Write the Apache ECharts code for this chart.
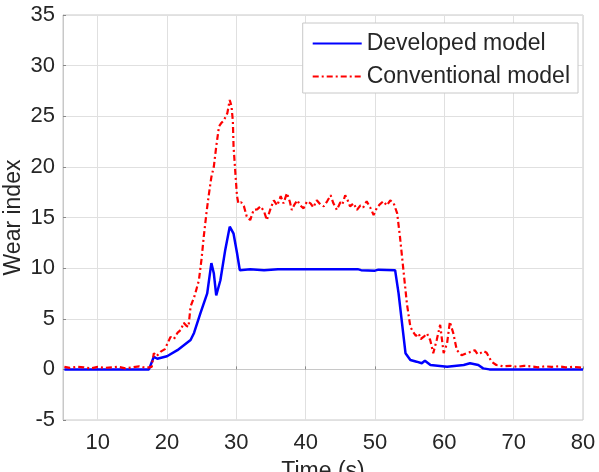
<!DOCTYPE html>
<html>
<head>
<meta charset="utf-8">
<script src="https://cdn.jsdelivr.net/npm/echarts@6/dist/echarts.min.js"></script>
<style>
  html, body { margin: 0; padding: 0; background: #fff; }
  #wearchart { width: 599px; height: 472px; }
</style>
</head>
<body>
<div id="wearchart"></div>
<script>
var xTicks = [10, 20, 30, 40, 50, 60, 70, 80];
var yTicks = [-5, 0, 5, 10, 15, 20, 25, 30, 35];

var devTime = [5.2, 17.4, 18.1, 18.6, 20.0, 21.5, 23.4, 23.9, 24.8, 25.8, 26.4, 26.75, 27.1, 27.7, 28.4, 29.05,
    29.6, 30.1, 30.5, 32.0, 34, 36, 38, 40, 44, 47.5, 48, 50, 50.5, 52.9, 53.4, 53.9, 54.4, 55.1, 56.0, 56.75,
    57.2, 58.0, 60.4, 62.8, 63.7, 64.9, 65.6, 66.5, 80];
var devWear = [0, 0, 1.25, 1.05, 1.3, 1.9, 2.9, 3.6, 5.5, 7.5, 10.5, 9.5, 7.3, 8.8, 11.8, 14.1,
    13.4, 11.5, 9.8, 9.9, 9.8, 9.9, 9.9, 9.9, 9.9, 9.9, 9.8, 9.75, 9.85, 9.8, 7.5, 4.55, 1.6, 0.93, 0.76, 0.6,
    0.86, 0.43, 0.27, 0.43, 0.6, 0.43, 0.1, 0, 0];

var convTime = [5.2, 6, 7, 8, 9, 10, 11, 12, 13, 14, 15, 16, 17, 17.8,
    18.1, 18.5, 19.1, 19.7, 20.1, 20.5, 21.0, 21.5, 22.0, 22.4, 22.8, 23.1, 23.4, 24.0, 24.6, 25.0, 25.3, 25.7,
    26.0, 26.4, 26.75, 27.1, 27.5, 27.8, 28.2, 28.7, 29.05, 29.3, 29.5, 29.6, 29.9, 30.1, 30.3, 30.7, 31.1,
    31.5, 32.0, 32.5, 33.0, 33.5, 34.0, 34.4, 34.9, 35.4, 35.9, 36.4, 36.8, 37.3, 37.7, 38.0, 38.4, 38.8, 39.2,
    39.7, 40.2, 40.7, 41.1, 41.6, 42.1, 42.6, 43.1, 43.6, 44.0, 44.5, 45.0, 45.3, 45.7, 46.0, 46.4, 46.9, 47.4,
    47.9, 48.3, 48.8, 49.3, 49.8, 50.3, 50.7, 51.2, 51.7, 52.2, 52.7, 53.2, 53.6, 54.1, 54.6, 55.1, 55.5, 55.9,
    56.3, 56.6, 57.0, 57.5, 57.96, 58.4, 58.9, 59.4, 59.9, 60.4, 60.8, 61.3, 61.8, 62.5, 63.2, 63.9, 64.4, 64.8,
    65.2, 65.7, 66.1, 66.8, 67.5, 68.5, 69.5, 70.5, 71.5, 72.5, 73.5, 74.5, 75.5, 76.5, 77.5, 78.5, 79.5, 80];
var convWear = [0.25, 0.15, 0.25, 0.2, 0.1, 0.25, 0.15, 0.2, 0.25, 0.1, 0.2, 0.3, 0.15, 0.25,
    1.6, 1.3, 1.75, 2.0, 2.6, 3.2, 3.0, 3.6, 3.9, 4.6, 4.3, 4.2, 6.2, 7.3, 8.8, 11, 13.1, 15.5,
    17.1, 19, 20.0, 22, 24.0, 24.3, 24.6, 25.3, 26.6, 26.0, 24.5, 22.0, 19, 17.1, 16.4, 16.5, 16.1,
    15.1, 14.75, 15.75, 15.8, 16.1, 15.6, 14.75, 15.8, 16.7, 16.2, 17.1, 16.4, 17.4, 16.6, 15.75, 16.3, 16.7, 16.2,
    15.9, 16.6, 16.4, 16.0, 16.7, 16.3, 16.1, 16.6, 17.2, 16.4, 15.75, 16.5, 16.3, 17.2, 16.8, 16.1, 16.4, 15.75,
    16.2, 16.0, 16.6, 16.0, 15.25, 16.0, 16.3, 16.6, 16.2, 16.7, 16.4, 15.4, 13.1, 9.8, 6.5, 4.2, 3.7, 3.3,
    3.55, 3.0, 3.2, 3.55, 2.9, 1.6, 2.9, 4.4, 1.6, 2.6, 4.7, 3.55, 1.9, 1.4, 1.6, 1.75, 1.9, 1.5,
    1.6, 1.8, 1.65, 0.76, 0.43, 0.3, 0.35, 0.25, 0.35, 0.3, 0.2, 0.3, 0.25, 0.3, 0.2, 0.25, 0.2, 0.15];

function pairs(xs, ys) {
    return xs.map(function (x, i) { return [x, ys[i]]; });
}

var chartDom = document.getElementById('wearchart');
var myChart = echarts.init(chartDom);
var option;

var tickFont = { fontFamily: 'Liberation Sans', fontSize: 22, color: '#262626' };
var nameFont = { fontFamily: 'Liberation Sans', fontSize: 23, color: '#262626' };

option = {
    animation: false,
    grid: {
        left: 63, right: 16, top: 15, bottom: 52,
        containLabel: false,
        outerBoundsMode: 'none',
        show: true, borderColor: '#c8c8c8', borderWidth: 1
    },
    legend: {
        orient: 'vertical',
        right: 21,
        top: 23,
        padding: [9, 8, 5, 9],
        itemWidth: 49,
        itemHeight: 14,
        itemGap: 10,
        backgroundColor: '#fff',
        borderColor: '#c8c8c8',
        borderWidth: 1,
        itemStyle: { opacity: 0 },
        textStyle: nameFont
    },
    xAxis: {
        type: 'value',
        min: 5,
        max: 80,
        name: 'Time (s)',
        nameLocation: 'middle',
        nameGap: 40,
        nameMoveOverlap: false,
        nameTextStyle: nameFont,
        axisLine: { lineStyle: { color: '#c8c8c8' } },
        axisTick: { inside: true, length: 3, customValues: xTicks, lineStyle: { color: '#888' } },
        axisLabel: Object.assign({ margin: 12, customValues: xTicks }, tickFont),
        splitLine: { lineStyle: { color: '#e0e0e0' } }
    },
    yAxis: {
        type: 'value',
        min: yTicks[0],
        max: yTicks[yTicks.length - 1],
        interval: 5,
        name: 'Wear index',
        nameLocation: 'middle',
        nameGap: 38,
        nameMoveOverlap: false,
        nameTextStyle: nameFont,
        axisLine: { show: true, lineStyle: { color: '#c8c8c8' } },
        axisTick: { show: true, inside: true, length: 3, lineStyle: { color: '#888' } },
        axisLabel: Object.assign({ margin: 8 }, tickFont),
        splitLine: { lineStyle: { color: '#e0e0e0' } }
    },
    series: [
        {
            name: 'Developed model',
            type: 'line',
            data: pairs(devTime, devWear),
            symbol: 'none',
            lineStyle: { color: '#0000ff', width: 2.5 },
            itemStyle: { color: '#0000ff' },
            z: 3
        },
        {
            name: 'Conventional model',
            type: 'line',
            data: pairs(convTime, convWear),
            symbol: 'none',
            lineStyle: { color: '#ff0000', width: 2.2, type: [6, 3, 2, 3] },
            itemStyle: { color: '#ff0000' },
            z: 4
        }
    ]
};

option && myChart.setOption(option);
</script>
</body>
</html>
